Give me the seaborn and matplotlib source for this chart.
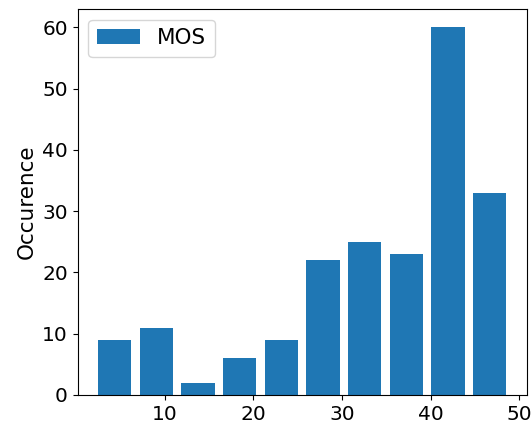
import numpy as np
import pandas as pd
import matplotlib
matplotlib.use("Agg")
import matplotlib.pyplot as plt
import seaborn as sns

# Data
bin_centers = [4.35, 9.05, 13.75, 18.45, 23.15, 27.85, 32.55, 37.25, 41.95, 46.65]
counts = [9, 11, 2, 6, 9, 22, 25, 23, 60, 33]
bin_edges = [2.0, 6.7, 11.4, 16.1, 20.8, 25.5, 30.2, 34.9, 39.6, 44.3, 49.0]
xticks = [10, 20, 30, 40, 50]
yticks = [0, 10, 20, 30, 40, 50, 60]

sns.set_style("ticks")
plt.rcParams['font.family'] = ['DejaVu Sans']
plt.rcParams['text.color'] = 'black'
plt.rcParams['axes.labelcolor'] = 'black'
plt.rcParams['xtick.color'] = 'black'
plt.rcParams['ytick.color'] = 'black'
tick_fs = 14.5
label_fs = 15.5

fig = plt.figure(figsize=(5.32, 4.25), dpi=100)
ax = fig.add_axes([77.5 / 532, 1 - 395 / 425, (526.5 - 77.5) / 532, (395 - 9) / 425])

df = pd.DataFrame({"MOS": bin_centers, "count": counts})
sns.histplot(data=df, x="MOS", weights="count", bins=bin_edges, shrink=0.8,
             color="#1f77b4", alpha=1, edgecolor="none", linewidth=0,
             label="MOS", ax=ax)

ax.set_xticks(xticks)
ax.set_yticks(yticks)
ax.set_xlim(0.18, 50.8)
ax.set_ylim(0, 63)
ax.set_xlabel("")
ax.set_ylabel("Occurence", fontsize=label_fs, color="black")
ax.tick_params(labelsize=tick_fs, length=3.5, width=0.8, color="black",
               labelcolor="black", direction="out")
for s in ax.spines.values():
    s.set_visible(True)
    s.set_color("black")
    s.set_linewidth(0.8)
leg = ax.legend(loc="upper left", fontsize=label_fs, handlelength=2.0, frameon=True)
for t in leg.get_texts():
    t.set_color("black")

fig.savefig("out.png", dpi=100)
